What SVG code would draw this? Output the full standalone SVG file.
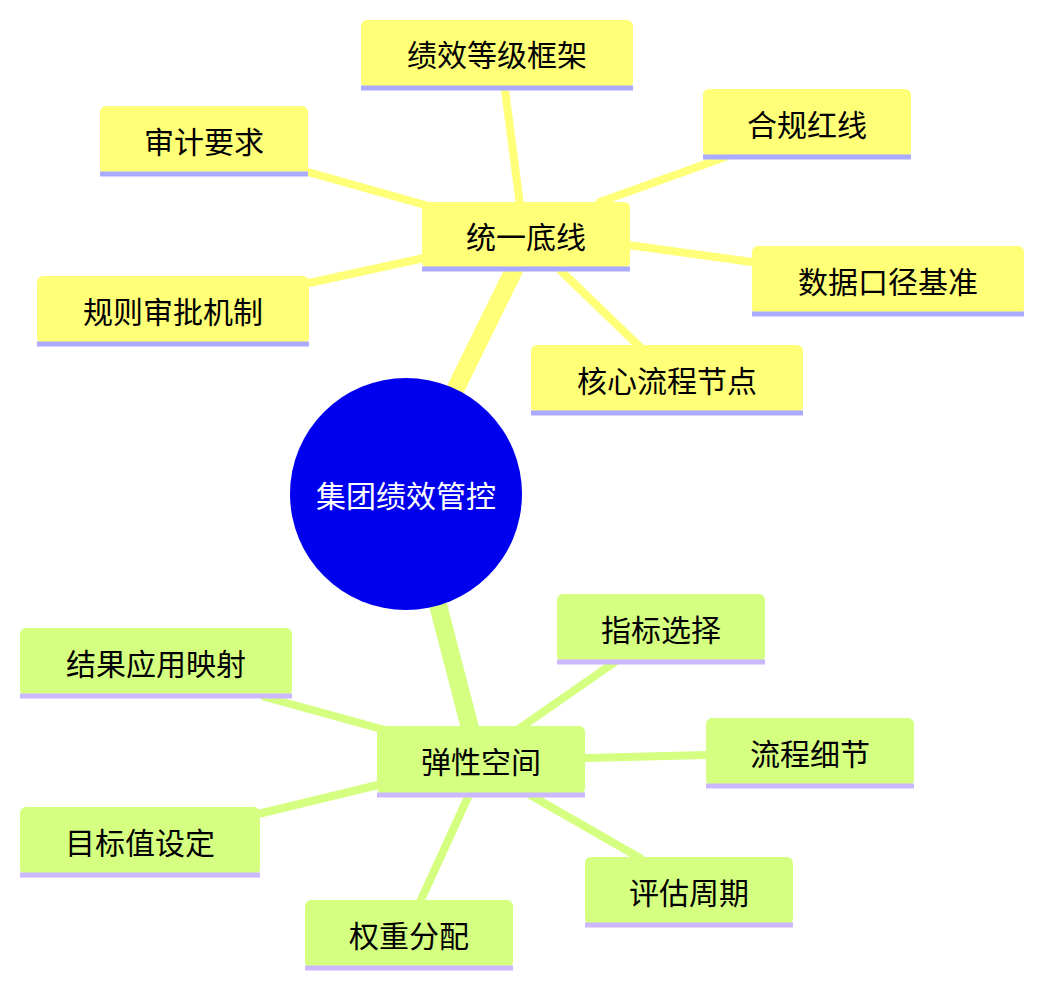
<svg xmlns="http://www.w3.org/2000/svg" width="1043" height="987" viewBox="0 0 1043 987">
<style>
text{font-family:"Noto Sans CJK SC","Noto Sans",sans-serif;font-size:30px;text-anchor:middle;dominant-baseline:central}
.y{fill:#ffff78}.g{fill:#d5ff80}
.yb{stroke:#aaaaff;stroke-width:5}.gb{stroke:#ccb8ff;stroke-width:5}
.yl{stroke:#ffff78;fill:none;stroke-linecap:round}.gl{stroke:#d5ff80;fill:none;stroke-linecap:round}
</style>
<rect width="1043" height="987" fill="#fff"/>
<g id="connectors">
<path class="yl" stroke-width="18" d="M455 390 L515 268"/>
<path class="gl" stroke-width="18" d="M438 605 L470 728"/>
<g stroke-width="8">
<path class="yl" d="M505 90 L520 205"/>
<path class="yl" d="M308 172 L425 205"/>
<path class="yl" d="M725 157 L600 202"/>
<path class="yl" d="M628 245 L752 262"/>
<path class="yl" d="M309 283 L424 258"/>
<path class="yl" d="M560 270 L640 347"/>
<path class="gl" d="M615 662 L520 728"/>
<path class="gl" d="M265 697 L385 730"/>
<path class="gl" d="M585 758 L706 755"/>
<path class="gl" d="M258 814 L378 785"/>
<path class="gl" d="M530 795 L640 858"/>
<path class="gl" d="M468 797 L420 902"/>
</g>
</g>
<g id="root"><circle cx="406" cy="494" r="116" fill="#0000ee"/><text x="406" y="494" fill="#fff">集团绩效管控</text></g>
<g id="n1"><rect class="y" x="422" y="202" width="208" height="66" rx="6"/><line class="yb" x1="422" y1="269" x2="630" y2="269"/><text x="526" y="235">统一底线</text></g>
<g id="n2"><rect class="y" x="361" y="20" width="272" height="68" rx="6"/><line class="yb" x1="361" y1="88" x2="633" y2="88"/><text x="497" y="53">绩效等级框架</text></g>
<g id="n3"><rect class="y" x="100" y="106" width="208" height="68" rx="6"/><line class="yb" x1="100" y1="174" x2="308" y2="174"/><text x="204" y="140">审计要求</text></g>
<g id="n4"><rect class="y" x="703" y="89" width="208" height="68" rx="6"/><line class="yb" x1="703" y1="157" x2="911" y2="157"/><text x="807" y="123">合规红线</text></g>
<g id="n5"><rect class="y" x="752" y="246" width="272" height="68" rx="6"/><line class="yb" x1="752" y1="314" x2="1024" y2="314"/><text x="888" y="280">数据口径基准</text></g>
<g id="n6"><rect class="y" x="37" y="276" width="272" height="68" rx="6"/><line class="yb" x1="37" y1="344" x2="309" y2="344"/><text x="173" y="310">规则审批机制</text></g>
<g id="n7"><rect class="y" x="531" y="345" width="272" height="68" rx="6"/><line class="yb" x1="531" y1="413" x2="803" y2="413"/><text x="667" y="379">核心流程节点</text></g>
<g id="m1"><rect class="g" x="377" y="726" width="208" height="68" rx="6"/><line class="gb" x1="377" y1="795" x2="585" y2="795"/><text x="481" y="760">弹性空间</text></g>
<g id="m2"><rect class="g" x="557" y="594" width="208" height="68" rx="6"/><line class="gb" x1="557" y1="662" x2="765" y2="662"/><text x="661" y="628">指标选择</text></g>
<g id="m3"><rect class="g" x="20" y="628" width="272" height="68" rx="6"/><line class="gb" x1="20" y1="696" x2="292" y2="696"/><text x="156" y="662">结果应用映射</text></g>
<g id="m4"><rect class="g" x="706" y="718" width="208" height="68" rx="6"/><line class="gb" x1="706" y1="786" x2="914" y2="786"/><text x="810" y="752">流程细节</text></g>
<g id="m5"><rect class="g" x="20" y="807" width="240" height="68" rx="6"/><line class="gb" x1="20" y1="875" x2="260" y2="875"/><text x="140" y="841">目标值设定</text></g>
<g id="m6"><rect class="g" x="585" y="857" width="208" height="68" rx="6"/><line class="gb" x1="585" y1="925" x2="793" y2="925"/><text x="689" y="891">评估周期</text></g>
<g id="m7"><rect class="g" x="305" y="900" width="208" height="68" rx="6"/><line class="gb" x1="305" y1="968" x2="513" y2="968"/><text x="409" y="934">权重分配</text></g>
</svg>
